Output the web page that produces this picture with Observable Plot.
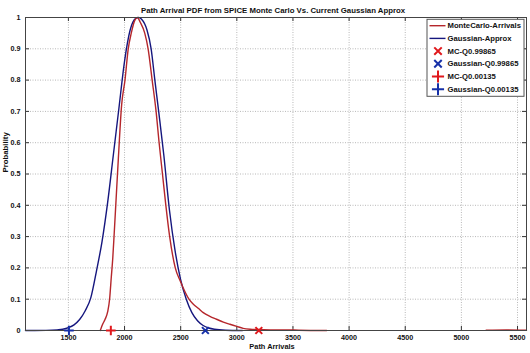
<!DOCTYPE html>
<html><head><meta charset="utf-8">
<script src="https://cdn.jsdelivr.net/npm/d3@7"></script>
<script src="https://cdn.jsdelivr.net/npm/@observablehq/plot@0.6"></script>
<style>body{margin:0;background:#fff} svg{font-family:"Liberation Sans",Arial,sans-serif}</style>
</head><body><div id="chart"></div>
<script>
const title = "Path Arrival PDF from SPICE Monte Carlo Vs. Current Gaussian Approx";
const xLabel = "Path Arrivals";
const yLabel = "Probability";

// Monte Carlo arrivals PDF; NaN = no data drawn
const mcX = [1784, 1792, 1805, 1826, 1850, 1867, 1882, 1895, 1908, 1925, 1945, 1974, 2004, 2033, 2060, 2090, 2115, 2140, 2180, 2210, 2246, 2281, 2308, 2338, 2368, 2402, 2452, 2500, 2530, 2574, 2613, 2660, 2701, 2760, 2819, 2880, 2938, 3000, 3056, 3120, 3175, 3300, 3450, 3550, 3800, 4500, 5220, 5400, 5580];
const mcY = [0, 0.008, 0.02, 0.035, 0.06, 0.1, 0.17, 0.23, 0.31, 0.42, 0.55, 0.72, 0.8, 0.9, 0.95, 0.99, 1.0, 0.985, 0.95, 0.9, 0.8, 0.7, 0.6, 0.5, 0.4, 0.3, 0.2, 0.155, 0.13, 0.1, 0.084, 0.07, 0.057, 0.045, 0.036, 0.027, 0.02, 0.013, 0.007, 0.004, 0.003, 0.002, 0.002, 0.001, 0, NaN, 0.001, 0.002, 0.001];

// Gaussian approximation
const gX = [1118, 1200, 1300, 1400, 1450, 1500, 1550, 1600, 1650, 1700, 1750, 1800, 1850, 1900, 1950, 2000, 2050, 2100, 2125, 2150, 2200, 2237, 2270, 2304, 2350, 2400, 2450, 2500, 2550, 2600, 2650, 2700, 2750, 2800, 2900, 3050];
const gY = [0, 0, 0.0003, 0.002, 0.004, 0.009, 0.018, 0.035, 0.063, 0.105, 0.19, 0.285, 0.41, 0.56, 0.71, 0.86, 0.96, 0.997, 1.0, 0.995, 0.96, 0.9, 0.8, 0.7, 0.56, 0.385, 0.255, 0.162, 0.1, 0.057, 0.031, 0.016, 0.008, 0.004, 0.001, 0];

// Quantile markers
const markerNames = ["MC-Q0.99865", "Gaussian-Q0.99865", "MC-Q0.00135", "Gaussian-Q0.00135"];
const markerX = [3196, 2720, 1878, 1505];
const markerSymbol = ["times", "times", "plus", "plus"];
const markerColor = ["#e0181c", "#1630a8", "#e0181c", "#1630a8"];

const lineNames = ["MonteCarlo-Arrivals", "Gaussian-Approx"];
const lineColor = ["#b5262b", "#15167e"];

const xDomain = [1118, 5580];
const xTicks = [1500, 2000, 2500, 3000, 3500, 4000, 4500, 5000, 5500];
const yTicks = [0, 0.1, 0.2, 0.3, 0.4, 0.5, 0.6, 0.7, 0.8, 0.9, 1];
const yTickLabels = ["0", "0.1", "0.2", "0.3", "0.4", "0.5", "0.6", "0.7", "0.8", "0.9", "1"];

const mc = mcX.map((x, i) => ({x, y: mcY[i]}));
const gauss = gX.map((x, i) => ({x, y: gY[i]}));
const markers = markerNames.map((name, i) => ({name, x: markerX[i], y: 0, symbol: markerSymbol[i], color: markerColor[i]}));

const W = 530, H = 353;
const mT = 17, mB = 23, mL = 25, mR = 4;
const frameH = H - mT - mB, frameW = W - mL - mR;
const fs = 7.2;
const legendFs = 7.7;

const plot = Plot.plot({
  width: W, height: H,
  marginTop: mT, marginBottom: mB, marginLeft: mL, marginRight: mR,
  style: {background: "#fff", fontFamily: "Liberation Sans, Arial, sans-serif"},
  x: {domain: xDomain},
  y: {domain: [0, 1]},
  marks: [
    Plot.gridX(xTicks, {stroke: "#b8b8b8", strokeOpacity: 1, strokeDasharray: "1,1.5"}),
    Plot.gridY(yTicks, {stroke: "#b8b8b8", strokeOpacity: 1, strokeDasharray: "1,1.5"}),
    Plot.tickX(xTicks, {x: d => d, insetTop: frameH - 4, stroke: "#333"}),
    Plot.tickX(xTicks, {x: d => d, insetBottom: frameH - 4, stroke: "#333"}),
    Plot.tickY(yTicks, {y: d => d, insetRight: frameW - 4, stroke: "#333"}),
    Plot.tickY(yTicks, {y: d => d, insetLeft: frameW - 4, stroke: "#333"}),
    Plot.axisX({ticks: xTicks, tickSize: 0, tickPadding: 4.5, fontSize: fs, fontWeight: "bold", label: null, tickFormat: d => String(d), fill: "#111"}),
    Plot.axisY({ticks: yTicks, tickSize: 0, tickPadding: 5, fontSize: fs, fontWeight: "bold", label: null, tickFormat: d => yTickLabels[yTicks.indexOf(d)], fill: "#111"}),
    Plot.line(gauss, {x: "x", y: "y", stroke: lineColor[1], strokeWidth: 1.4, curve: "monotone-x"}),
    Plot.line(mc, {x: "x", y: "y", stroke: lineColor[0], strokeWidth: 1.4, curve: "monotone-x"}),
    Plot.frame({stroke: "#444", strokeWidth: 1}),
    Plot.dot(markers, {x: "x", y: "y", symbol: "symbol", stroke: "color", r: 3.2, strokeWidth: 2}),
    Plot.text([title], {frameAnchor: "top", dy: -10, dx: -3, fontSize: 7.8, fontWeight: "bold", fill: "#111"}),
    Plot.text([xLabel], {frameAnchor: "bottom", dy: 18, dx: -4, fontSize: 7.4, fontWeight: "bold", fill: "#111"}),
    Plot.text([yLabel], {frameAnchor: "left", dx: -20, dy: -1.5, rotate: -90, fontSize: 7.8, fontWeight: "bold", fill: "#111"})
  ]
});

// Legend box (MATLAB style, top-right inside axes)
const svg = d3.select(plot);
const xr = plot.scale("x").range, yr = plot.scale("y").range;
const boxW = 97, boxH = 77, rowH = 12.7;
const bx = xr[1] - 2 - boxW, by = yr[1] + 2.3;
const lg = svg.append("g").attr("font-size", legendFs).attr("font-weight", "bold").attr("font-family", "Liberation Sans, Arial, sans-serif").attr("text-anchor", "start");
lg.append("rect").attr("x", bx).attr("y", by).attr("width", boxW).attr("height", boxH).attr("fill", "#fff").attr("stroke", "#555").attr("stroke-width", 1);
const entries = [
  ...lineNames.map((n, i) => ({name: n, kind: "line", color: lineColor[i]})),
  ...markerNames.map((n, i) => ({name: n, kind: markerSymbol[i], color: markerColor[i]}))
];
entries.forEach((e, i) => {
  const cy = by + 6.4 + i * rowH;
  if (e.kind === "line") {
    lg.append("line").attr("x1", bx + 2.5).attr("x2", bx + 18.5).attr("y1", cy).attr("y2", cy).attr("stroke", e.color).attr("stroke-width", 1.4);
  } else {
    const sym = e.kind === "times" ? d3.symbolTimes : d3.symbolPlus;
    const size = e.kind === "times" ? 38 : 50;
    lg.append("path").attr("d", d3.symbol(sym, size)()).attr("transform", `translate(${bx + 11},${cy})`).attr("fill", "none").attr("stroke", e.color).attr("stroke-width", 2);
  }
  lg.append("text").attr("x", bx + 20.5).attr("y", cy).attr("dy", "0.35em").attr("text-anchor", "start").attr("fill", "#111").text(e.name);
});

document.getElementById("chart").appendChild(plot);
</script>
</body></html>
